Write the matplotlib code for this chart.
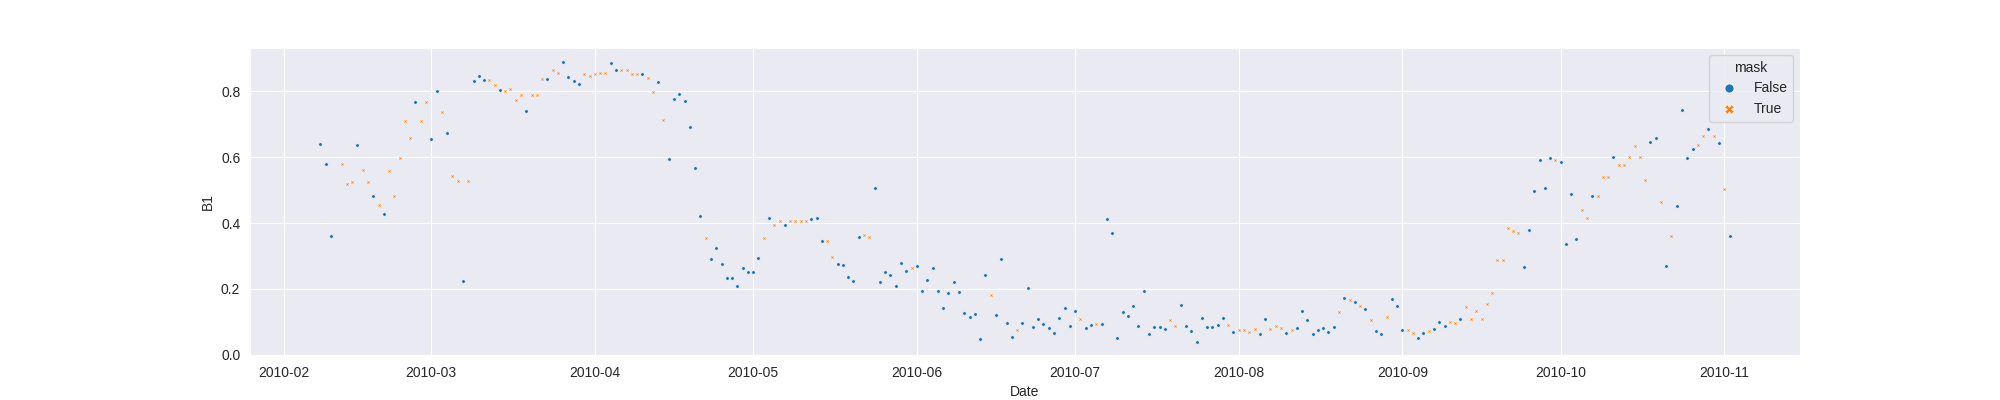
import numpy as np
import pandas as pd
import matplotlib
matplotlib.use("Agg")
import matplotlib.pyplot as plt
from matplotlib.lines import Line2D
import seaborn as sns

# ---- data (daily series, 2010-02-08 .. 2010-11-02, 2010-02-11 missing) ----
start_date = "2010-02-08"
end_date = "2010-11-02"
missing_dates = ["2010-02-11"]

feb_b1 = [0.641, 0.579, 0.360, 0.579, 0.519, 0.524, 0.638, 0.561, 0.525, 0.482,
          0.456, 0.428, 0.557, 0.482, 0.599, 0.711, 0.658, 0.769, 0.711, 0.769]
feb_mask = [0, 0, 0, 1, 1, 1, 0, 1, 1, 0, 1, 0, 1, 1, 1, 1, 1, 0, 1, 1]

mar_b1 = [0.654, 0.801, 0.737, 0.673, 0.544, 0.527, 0.224, 0.527, 0.831, 0.847,
          0.834, 0.834, 0.820, 0.805, 0.801, 0.806, 0.773, 0.789, 0.740, 0.789,
          0.789, 0.837, 0.837, 0.864, 0.857, 0.889, 0.844, 0.832, 0.821, 0.854,
          0.847]
mar_mask = [0, 0, 1, 0, 1, 1, 0, 1, 0, 0, 0, 1, 1, 0, 1, 1, 1, 1, 0, 1,
            1, 1, 0, 1, 1, 0, 0, 0, 0, 1, 1]

apr_b1 = [0.854, 0.857, 0.857, 0.885, 0.866, 0.864, 0.866, 0.853, 0.853, 0.853,
          0.839, 0.797, 0.827, 0.712, 0.596, 0.778, 0.791, 0.770, 0.691, 0.566,
          0.420, 0.355, 0.290, 0.324, 0.276, 0.234, 0.232, 0.208, 0.264, 0.251]
apr_mask = [1, 1, 1, 0, 0, 1, 1, 1, 1, 0, 1, 1, 0, 1, 0, 0, 0, 0, 0, 0,
            0, 1, 0, 0, 0, 0, 0, 0, 0, 0]

may_b1 = [0.251, 0.295, 0.355, 0.415, 0.395, 0.405, 0.395, 0.405, 0.405, 0.407,
          0.405, 0.412, 0.414, 0.346, 0.346, 0.297, 0.276, 0.272, 0.237, 0.225,
          0.358, 0.363, 0.358, 0.506, 0.221, 0.253, 0.243, 0.208, 0.278, 0.256,
          0.263]
may_mask = [0, 0, 1, 0, 1, 1, 0, 1, 1, 1, 1, 0, 0, 0, 1, 1, 0, 0, 0, 0,
            0, 1, 1, 0, 0, 0, 0, 0, 0, 0, 1]

jun_b1 = [0.269, 0.193, 0.228, 0.265, 0.194, 0.141, 0.187, 0.222, 0.191, 0.126,
          0.116, 0.124, 0.049, 0.241, 0.182, 0.122, 0.291, 0.098, 0.055, 0.076,
          0.096, 0.203, 0.085, 0.108, 0.094, 0.081, 0.066, 0.112, 0.142, 0.087]
jun_mask = [0, 0, 0, 0, 0, 0, 0, 0, 0, 0, 0, 0, 0, 0, 1, 0, 0, 0, 0, 1,
            0, 0, 0, 0, 0, 0, 0, 0, 0, 0]

jul_b1 = [0.133, 0.108, 0.080, 0.092, 0.093, 0.093, 0.411, 0.369, 0.052, 0.131,
          0.117, 0.149, 0.089, 0.193, 0.064, 0.085, 0.085, 0.079, 0.105, 0.089,
          0.150, 0.089, 0.071, 0.039, 0.113, 0.085, 0.084, 0.091, 0.113, 0.091,
          0.068]
jul_mask = [0, 1, 0, 0, 1, 0, 0, 0, 0, 0, 0, 0, 0, 0, 0, 0, 0, 0, 1, 1,
            0, 0, 0, 0, 0, 0, 0, 0, 0, 1, 0]

aug_b1 = [0.074, 0.074, 0.068, 0.077, 0.064, 0.108, 0.077, 0.087, 0.083, 0.067,
          0.074, 0.083, 0.133, 0.107, 0.064, 0.076, 0.080, 0.068, 0.086, 0.129,
          0.173, 0.166, 0.160, 0.149, 0.138, 0.105, 0.071, 0.063, 0.116, 0.169,
          0.149]
aug_mask = [1, 1, 1, 1, 0, 0, 1, 1, 1, 0, 1, 0, 0, 0, 0, 0, 0, 0, 0, 1,
            0, 1, 0, 1, 0, 1, 0, 0, 1, 0, 0]

sep_b1 = [0.076, 0.075, 0.065, 0.051, 0.066, 0.072, 0.078, 0.099, 0.088, 0.099,
          0.097, 0.108, 0.145, 0.108, 0.133, 0.108, 0.153, 0.189, 0.288, 0.288,
          0.385, 0.377, 0.369, 0.268, 0.378, 0.496, 0.591, 0.507, 0.597, 0.592]
sep_mask = [0, 1, 1, 0, 0, 1, 0, 0, 0, 1, 1, 0, 1, 1, 1, 1, 1, 1, 1, 1,
            1, 1, 1, 0, 0, 0, 0, 0, 0, 1]

oct_b1 = [0.585, 0.338, 0.487, 0.352, 0.439, 0.416, 0.482, 0.482, 0.541, 0.541,
          0.600, 0.577, 0.577, 0.600, 0.634, 0.600, 0.532, 0.645, 0.658, 0.464,
          0.270, 0.361, 0.451, 0.742, 0.599, 0.625, 0.636, 0.665, 0.686, 0.665,
          0.643]
oct_mask = [0, 0, 0, 0, 1, 1, 0, 1, 1, 1, 0, 1, 1, 1, 1, 1, 1, 0, 0, 1,
            0, 1, 0, 0, 0, 0, 1, 1, 0, 1, 0]

nov_b1 = [0.502, 0.361]
nov_mask = [1, 0]

mask_labels = ["False", "True"]
colors = ["#1f77b4", "#ff7f0e"]
markers = ["o", "X"]

# ---- assemble ----
dates = pd.date_range(start_date, end_date, freq="D")
dates = dates[~dates.isin(pd.to_datetime(missing_dates))]
b1 = (feb_b1 + mar_b1 + apr_b1 + may_b1 + jun_b1 + jul_b1 + aug_b1
      + sep_b1 + oct_b1 + nov_b1)
mask = (feb_mask + mar_mask + apr_mask + may_mask + jun_mask + jul_mask
        + aug_mask + sep_mask + oct_mask + nov_mask)
df = pd.DataFrame({"Date": dates, "B1": b1, "mask": np.array(mask, dtype=bool)})

# ---- style ----
sns.set_style("darkgrid")
plt.rcParams["font.family"] = ["Liberation Sans", "DejaVu Sans"]

fig, ax = plt.subplots(figsize=(20, 4), dpi=100)

for val, col, mk in zip([False, True], colors, markers):
    sub = df[df["mask"] == val]
    ax.scatter(sub["Date"], sub["B1"], s=6, marker=mk, color=col,
               edgecolor="white", linewidth=0.25, zorder=3)

ax.set_xlabel("Date")
ax.set_ylabel("B1")

handles = [Line2D([], [], linestyle="", marker=mk, color=col,
                  markeredgecolor="white", markeredgewidth=0.5, markersize=6.5)
           for col, mk in zip(colors, markers)]
ax.legend(handles, mask_labels, title="mask", loc="upper right")

fig.savefig("out.png", dpi=100)
